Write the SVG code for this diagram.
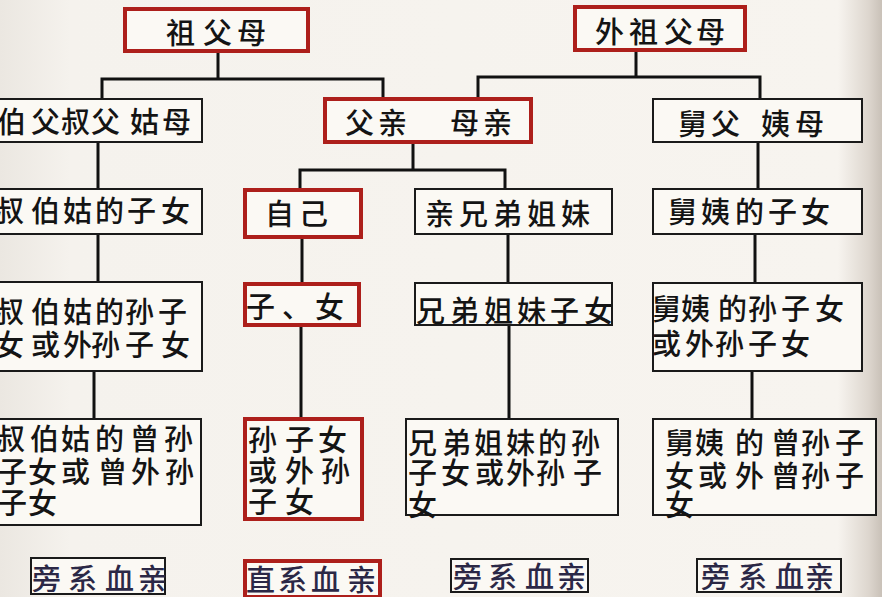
<svg xmlns="http://www.w3.org/2000/svg" width="882" height="597" viewBox="0 0 882 597">
<style>
.red{fill:#fbf9f4;stroke:#ad1f1b;stroke-width:4}
.blk{fill:#fbf9f4;stroke:#1a1a1a;stroke-width:2}
.t{font-family:"Noto Sans CJK SC","Noto Sans CJK TC",sans-serif;font-size:29px;font-weight:500;fill:#141414;dominant-baseline:central}
.b{fill:#2b2846}
.con{fill:none;stroke:#111;stroke-width:3}
</style>
<defs>
<linearGradient id="bg" x1="0" y1="0" x2="1" y2="0">
<stop offset="0" stop-color="#ebe7e1"/>
<stop offset="0.08" stop-color="#f5f2ed"/>
<stop offset="0.95" stop-color="#f7f4ef"/>
<stop offset="0.985" stop-color="#ddd6ce"/>
<stop offset="1" stop-color="#c9c1b8"/>
</linearGradient>
</defs>
<rect x="0" y="0" width="882" height="597" fill="url(#bg)"/>
<g id="connectors">
<path class="con" d="M218,53 V79 M102,98 V79 H383 V97"/>
<path class="con" d="M636,52 V77 M478,97 V77 H760 V98"/>
<path class="con" d="M98,143 V188"/>
<path class="con" d="M413,144 V170 M300,188 V170 H505 V188"/>
<path class="con" d="M758,143 V188"/>
<path class="con" d="M98,235 V281"/>
<path class="con" d="M302,239 V282"/>
<path class="con" d="M508,235 V282"/>
<path class="con" d="M755,235 V282"/>
<path class="con" d="M94,372 V418"/>
<path class="con" d="M301,327 V417"/>
<path class="con" d="M509,326 V418"/>
<path class="con" d="M752,372 V418"/>
</g>
<g id="n-zufumu">
<rect class="red" x="125" y="9" width="183" height="42"/>
<text class="t" x="166 203 237" y="31">祖父母</text>
</g>
<g id="n-waizufumu">
<rect class="red" x="575" y="7" width="170" height="43"/>
<text class="t" x="595 629 664 696" y="30">外祖父母</text>
</g>
<g id="n-bofu">
<rect class="blk" x="-5" y="99" width="207" height="43"/>
<text class="t" x="-3 31 61 91 130 162" y="120">伯父叔父姑母</text>
</g>
<g id="n-fuqin">
<rect class="red" x="325" y="99" width="206" height="43"/>
<text class="t" x="345 378" y="121">父亲</text>
<text class="t" x="450 483" y="121">母亲</text>
</g>
<g id="n-jiufu">
<rect class="blk" x="653" y="99" width="209" height="43"/>
<text class="t" x="678 711" y="122">舅父</text>
<text class="t" x="761 795" y="122">姨母</text>
</g>
<g id="n-shubo-zinv">
<rect class="blk" x="-5" y="189" width="207" height="45"/>
<text class="t" x="-5 31 63 95 127 161" y="209">叔伯姑的子女</text>
</g>
<g id="n-ziji">
<rect class="red" x="245" y="190" width="116" height="47"/>
<text class="t" x="265 299" y="212">自己</text>
</g>
<g id="n-xiongdi">
<rect class="blk" x="415" y="189" width="197" height="45"/>
<text class="t" x="425 459 493 527 561" y="212">亲兄弟姐妹</text>
</g>
<g id="n-jiuyi-zinv">
<rect class="blk" x="653" y="189" width="209" height="45"/>
<text class="t" x="668 701 735 768 801" y="210">舅姨的子女</text>
</g>
<g id="n-shubo-sunzinv">
<rect class="blk" x="-5" y="282" width="207" height="89"/>
<text class="t" x="-5 31 63 95 125 158" y="310">叔伯姑的孙子</text>
<text class="t" x="-5 31 63 91 125 161" y="343">女或外孙子女</text>
</g>
<g id="n-zinv">
<rect class="red" x="245" y="284" width="114" height="41"/>
<text class="t" x="246 282 315" y="305">子、女</text>
</g>
<g id="n-xiongdi-zinv">
<rect class="blk" x="415" y="283" width="197" height="42"/>
<text class="t" x="416 450 484 517 550 584" y="309">兄弟姐妹子女</text>
</g>
<g id="n-jiuyi-sunzinv">
<rect class="blk" x="653" y="283" width="209" height="88"/>
<text class="t" x="652 681 718 748 781 815" y="307">舅姨的孙子女</text>
<text class="t" x="652 685 715 748 781" y="342">或外孙子女</text>
</g>
<g id="n-shubo-zengsun">
<rect class="blk" x="-5" y="419" width="206" height="106"/>
<text class="t" x="-4 30 61 95 130 164" y="437">叔伯姑的曾孙</text>
<text class="t" x="-2 28 61 98 131 165" y="470">子女或曾外孙</text>
<text class="t" x="-2 28" y="501">子女</text>
</g>
<g id="n-sunzinv">
<rect class="red" x="245" y="419" width="117" height="100"/>
<text class="t" x="248 285 318" y="438">孙子女</text>
<text class="t" x="248 285 321" y="469">或外孙</text>
<text class="t" x="248 285" y="500">子女</text>
</g>
<g id="n-xiongdi-sunzinv">
<rect class="blk" x="406" y="419" width="212" height="96"/>
<text class="t" x="408 442 474 506 538 571" y="441">兄弟姐妹的孙</text>
<text class="t" x="408 441 475 506 536 573" y="471">子女或外孙子</text>
<text class="t" x="408" y="503">女</text>
</g>
<g id="n-jiuyi-zengsun">
<rect class="blk" x="653" y="419" width="223" height="96"/>
<text class="t" x="665 695 735 771 801 835" y="441">舅姨的曾孙子</text>
<text class="t" x="665 698 735 771 801 835" y="474">女或外曾孙子</text>
<text class="t" x="665" y="503">女</text>
</g>
<g id="l-pangxi1">
<rect class="blk" x="31" y="558" width="134" height="36"/>
<text class="t b" x="32 68 105 138" y="577">旁系血亲</text>
</g>
<g id="l-zhixi">
<rect class="red" x="245" y="561" width="135" height="36"/>
<text class="t b" x="246 278 311 347" y="578">直系血亲</text>
</g>
<g id="l-pangxi2">
<rect class="blk" x="451" y="559" width="137" height="33"/>
<text class="t b" x="453 488 525 557" y="575">旁系血亲</text>
</g>
<g id="l-pangxi3">
<rect class="blk" x="697" y="559" width="144" height="33"/>
<text class="t b" x="701 738 775 805" y="575">旁系血亲</text>
</g>
</svg>
